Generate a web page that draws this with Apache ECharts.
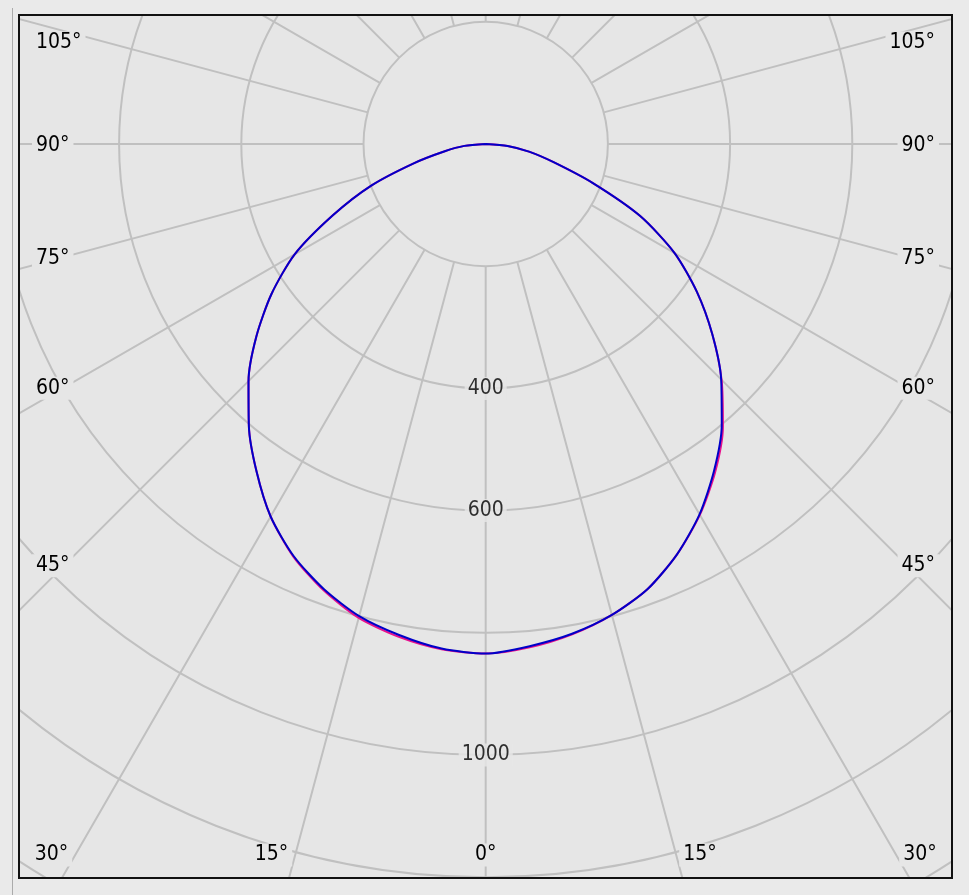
<!DOCTYPE html>
<html><head><meta charset="utf-8">
<script src="https://cdn.jsdelivr.net/npm/echarts@6/dist/echarts.min.js"></script>
<style>
html,body{margin:0;padding:0;background:#eaeaea;width:969px;height:895px;overflow:hidden;position:relative;}
#edge{position:absolute;left:12px;top:8px;width:1px;height:887px;background:#ababab;}
#frame{position:absolute;left:18px;top:14px;width:931px;height:861px;border:2px solid #111;overflow:hidden;}
#c{width:931px;height:861px;}
</style>
</head><body><div id="edge"></div><div id="frame"><div id="c"></div></div>
<script>
// ---- data (luminous intensity, cd/klm) ----
const angles = [0,5,10,15,20,25,30,35,40,45,50,55,60,65,70,75,80,85,90];
const planeC180 = [834,829,816,800,775,744,704,654,603,549,490,428,361,276,200,122,68,35,0]; // left half (blue)
const planeC0   = [834,825,814,798,775,741,700,652,601,545,484,422,357,279,186,115,72,36,0]; // right half (blue)
const planeC90  = [834,830,819,803,777,745,704,654,603,549,490,428,361,276,200,122,68,35,0]; // left half (red)
const planeC270 = [834,827,815,798,775,741,701,655,604,546,484,422,357,279,186,115,72,36,0]; // right half (red)
const ringLabels = [400, 600, 1000];
const angleLabels = [0, 15, 30, 45, 60, 75, 90, 105];

// ---- layout / style (chart coordinates, inside the frame) ----
const CX = 465.7, CY = 128;                        // polar centre
const R_MAX = 1600, PX_PER = 0.611, R = R_MAX * PX_PER;
const RING = 200, SPOKE = 15, SPOKE_START = 200;
const BG_IN = '#e6e6e6', GRID = '#c0c0c0';
const FONT = "'DejaVu Sans Condensed','Liberation Sans',Arial,sans-serif";
const FS = 21;

function halfCurve(left, right) {
  const pts = [];
  for (let i = angles.length - 1; i >= 0; i--) pts.push([left[i], angles[i]]);
  for (let i = 1; i < angles.length; i++) pts.push([right[i], 360 - angles[i]]);
  return pts;
}

const chart = echarts.init(document.getElementById('c'), null, {renderer: 'canvas'});
const option = {
  animation: false,
  backgroundColor: BG_IN,
  polar: [
    {center: [CX, CY], radius: R},
    {center: [CX, CY], radius: [R * SPOKE_START / R_MAX, R]}
  ],
  angleAxis: [
    {polarIndex: 0, type: 'value', min: 0, max: 360, startAngle: 270, clockwise: true,
     axisLine: {show: false}, axisTick: {show: false}, axisLabel: {show: false}, splitLine: {show: false}},
    {polarIndex: 1, type: 'value', min: 0, max: 360, interval: SPOKE, startAngle: 270, clockwise: true,
     axisLine: {show: false}, axisTick: {show: false}, axisLabel: {show: false},
     splitLine: {show: true, lineStyle: {color: GRID, width: 2}}}
  ],
  radiusAxis: [
    {polarIndex: 0, type: 'value', min: 0, max: R_MAX, interval: RING,
     axisLine: {show: false}, axisTick: {show: false}, axisLabel: {show: false},
     splitLine: {show: true, lineStyle: {color: GRID, width: 2}}},
    {polarIndex: 1, type: 'value', min: 0, max: 1, show: false}
  ],
  series: [
    {type: 'line', coordinateSystem: 'polar', polarIndex: 0, data: halfCurve(planeC90, planeC270),
     symbol: 'none', clip: false, silent: true, z: 3, smooth: 0.25, lineStyle: {color: '#e8108c', width: 2}},
    {type: 'line', coordinateSystem: 'polar', polarIndex: 0, data: halfCurve(planeC180, planeC0),
     symbol: 'none', clip: false, silent: true, z: 4, smooth: 0.25, lineStyle: {color: '#0000c8', width: 2}},
    {type: 'scatter', coordinateSystem: 'polar', polarIndex: 0, data: ringLabels.map(v => [v, 0]),
     symbolSize: 1, itemStyle: {color: 'rgba(0,0,0,0)'}, silent: true, z: 6,
     label: {show: true, position: 'inside', formatter: p => String(p.value[0]), color: '#000',
             fontSize: FS, fontFamily: FONT, backgroundColor: BG_IN, padding: [1, 3]}}
  ]
};
chart.setOption(option);

// angle labels near the frame, positioned along the spokes
const CW = 931, CH = 861;
const inL = 46, inR = CW - 45.6, inB = CH - 22, topMin = 27, edgePad = 12;
const c = chart.convertToPixel({polarIndex: 0}, [0, 0]);
const texts = [];
function addLabel(a) {
  const p = chart.convertToPixel({polarIndex: 0}, [1000, a]);
  const dx = p[0] - c[0], dy = p[1] - c[1];
  let best = Infinity, side = '';
  if (dx < -1e-6) { const t = (inL - c[0]) / dx; if (t > 0 && t < best) { best = t; side = 'L'; } }
  if (dx > 1e-6)  { const t = (inR - c[0]) / dx; if (t > 0 && t < best) { best = t; side = 'R'; } }
  if (dy > 1e-6)  { const t = (inB - c[1]) / dy; if (t > 0 && t < best) { best = t; side = 'B'; } }
  const px = c[0] + dx * best, py = c[1] + dy * best;
  const label = (a <= 180 ? a : 360 - a) + '°';
  let x, y, align;
  if (side === 'L') { x = edgePad; y = Math.max(py + 2, topMin); align = 'left'; }
  else if (side === 'R') { x = CW - edgePad; y = Math.max(py + 2, topMin); align = 'right'; }
  else {
    y = inB;
    if (Math.abs(dx) < 1) { x = px; align = 'center'; }
    else if (dx < 0) { x = px - 3; align = 'right'; }
    else { x = px + 3; align = 'left'; }
  }
  texts.push({type: 'text', z: 50, silent: true,
    style: {text: label, x: x, y: y, align: align, verticalAlign: 'middle',
            font: FS + 'px ' + FONT, fill: '#000', backgroundColor: BG_IN, padding: [1, 4]}});
}
angleLabels.forEach(a => { addLabel(a); if (a > 0) addLabel(360 - a); });
chart.setOption({graphic: {elements: texts}});
</script></body></html>
